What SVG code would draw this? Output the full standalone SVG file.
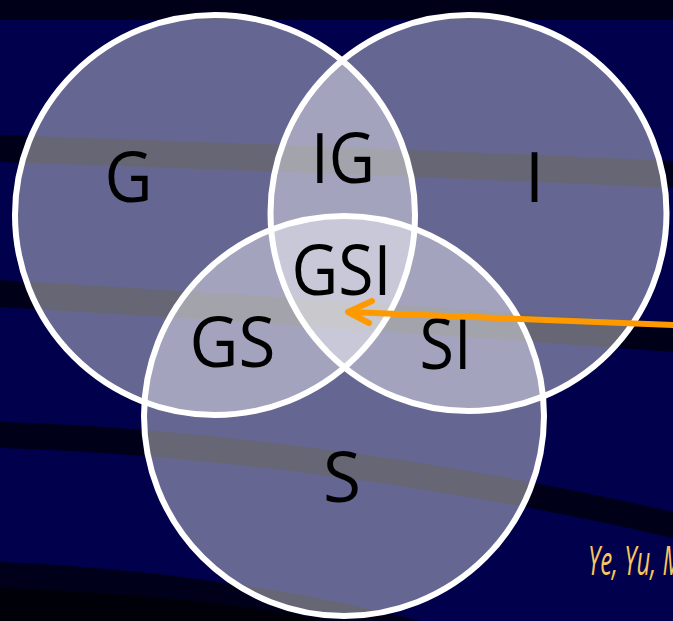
<svg xmlns="http://www.w3.org/2000/svg" width="673" height="621" viewBox="0 0 673 621">
  <style>
    .band { fill: #000019; }
    .set { fill: #ffffff; fill-opacity: 0.4; stroke: #ffffff; stroke-width: 6; }
    .lbl { font-family: "Open Sans", "Noto Sans", sans-serif; font-size: 70px; fill: #000000; text-anchor: middle; }
    .arrow { fill: none; stroke: #ff9900; stroke-width: 6; stroke-linecap: round; stroke-linejoin: round; }
    .cite { font-family: "Open Sans", "Noto Sans", sans-serif; font-style: italic; font-size: 40px; fill: #f8c660; }
  </style>
  <g id="background">
    <rect x="0" y="0" width="673" height="621" fill="#00004c"/>
    <rect x="0" y="0" width="673" height="20" fill="#000018"/>
    <path class="band" d="M0,135 Q340,146 673,161 L673,188 Q340,173 0,162 Z"/>
    <path class="band" d="M0,280 Q340,300 673,324 L673,352 Q340,327 0,307 Z"/>
    <path class="band" d="M0,422 C200,428 450,460 673,512 L673,538 C450,486 200,454 0,448 Z"/>
    <path d="M0,562 C150,568 300,590 420,621 L0,621 Z" fill="#00001a"/>
    <path d="M0,588 C100,592 220,600 330,621 L0,621 Z" fill="#000008"/>
  </g>
  <g id="node-G"><circle class="set" cx="215" cy="215" r="200"/></g>
  <g id="node-I"><circle class="set" cx="468.5" cy="213" r="198"/></g>
  <g id="node-S"><circle class="set" cx="344" cy="416" r="200"/></g>
  <g id="labels">
    <text class="lbl" x="128.5" y="202" textLength="48" lengthAdjust="spacingAndGlyphs">G</text>
    <text class="lbl" x="343" y="183" textLength="64" lengthAdjust="spacingAndGlyphs">IG</text>
    <text class="lbl" x="534.5" y="202">I</text>
    <text class="lbl" x="341.5" y="295" textLength="100" lengthAdjust="spacingAndGlyphs">GSI</text>
    <text class="lbl" x="232.5" y="367" textLength="86" lengthAdjust="spacingAndGlyphs">GS</text>
    <text class="lbl" x="445.5" y="369" textLength="52" lengthAdjust="spacingAndGlyphs">SI</text>
    <text class="lbl" x="342" y="502" textLength="38" lengthAdjust="spacingAndGlyphs">S</text>
  </g>
  <g id="connectors">
    <path class="arrow" d="M673,325 L349,312"/>
    <path class="arrow" d="M372,301 L348,312 L369,323"/>
  </g>
  <text class="cite" transform="translate(588,575) scale(0.6,1)">Ye, Yu, M</text>
</svg>
